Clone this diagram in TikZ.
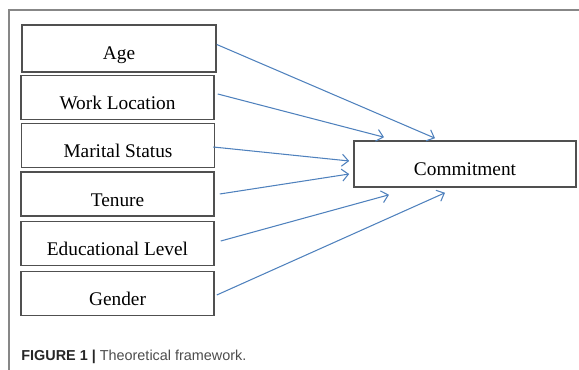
\documentclass[tikz,border=0pt]{standalone}
\usepackage{fontspec}
\setmainfont{Liberation Serif}
\newfontfamily\capfont{Liberation Sans}
\usetikzlibrary{arrows.meta}
\definecolor{linkblue}{RGB}{79,129,189}
\definecolor{framegray}{RGB}{135,135,135}
\definecolor{boxgray}{RGB}{80,80,80}
\tikzset{Factor/.style={rectangle,draw=boxgray,line width=0.9pt,minimum width=3.86cm,inner sep=0pt,text height=0.69cm,text depth=0.19cm,font=\fontsize{11}{13}\selectfont}}
\tikzset{Outcome/.style={Factor,minimum width=4.44cm,text depth=0.23cm}}
\tikzset{Link/.style={draw=linkblue,line width=0.6pt,-{Straight Barb[length=1.3mm,width=2.4mm]}}}

\begin{document}
\begin{tikzpicture}
\useasboundingbox (0,0) rectangle (11.58,-7.4);
\draw [framegray,line width=0.9pt] (11.58,-0.2) -- (0.18,-0.2) -- (0.18,-7.4);
\node (age) at (2.38,-0.97) [Factor,minimum width=3.88cm,text depth=0.25cm] {Age};
\node (loc) at (2.35,-1.95) [Factor] {Work Location};
\node (marital) at (2.36,-2.91) [Factor] {Marital Status};
\node (tenure) at (2.35,-3.88) [Factor] {Tenure};
\node (edu) at (2.35,-4.87) [Factor] {Educational Level};
\node (gender) at (2.35,-5.87) [Factor] {Gender};
\node (commit) at (9.30,-3.28) [Outcome] {Commitment};
\draw [Link] ([yshift=0.08cm]age.east) -- ([xshift=-0.6cm,yshift=0.04cm]commit.north);
\draw [Link] ([xshift=0.06cm,yshift=0.07cm]loc.east) -- ([xshift=-1.62cm,yshift=0.06cm]commit.north);
\draw [Link] ([xshift=-0.04cm,yshift=-0.03cm]marital.east) -- ([xshift=-0.08cm,yshift=0.06cm]commit.west);
\draw [Link] ([xshift=0.1cm]tenure.east) -- ([xshift=-0.08cm,yshift=-0.2cm]commit.west);
\draw [Link] ([xshift=0.12cm,yshift=0.05cm]edu.east) -- ([xshift=-1.52cm,yshift=-0.14cm]commit.south);
\draw [Link] ([xshift=0.04cm,yshift=-0.03cm]gender.east) -- ([xshift=-0.4cm,yshift=-0.1cm]commit.south);
\node (caption) at (0.42,-7.22) [anchor=base west,inner sep=0pt,font=\capfont\fontsize{8.2}{10}\selectfont] {\textcolor{black!85}{\bfseries FIGURE 1 |} \textcolor{black!70}{Theoretical framework.}};
\end{tikzpicture}
\end{document}
